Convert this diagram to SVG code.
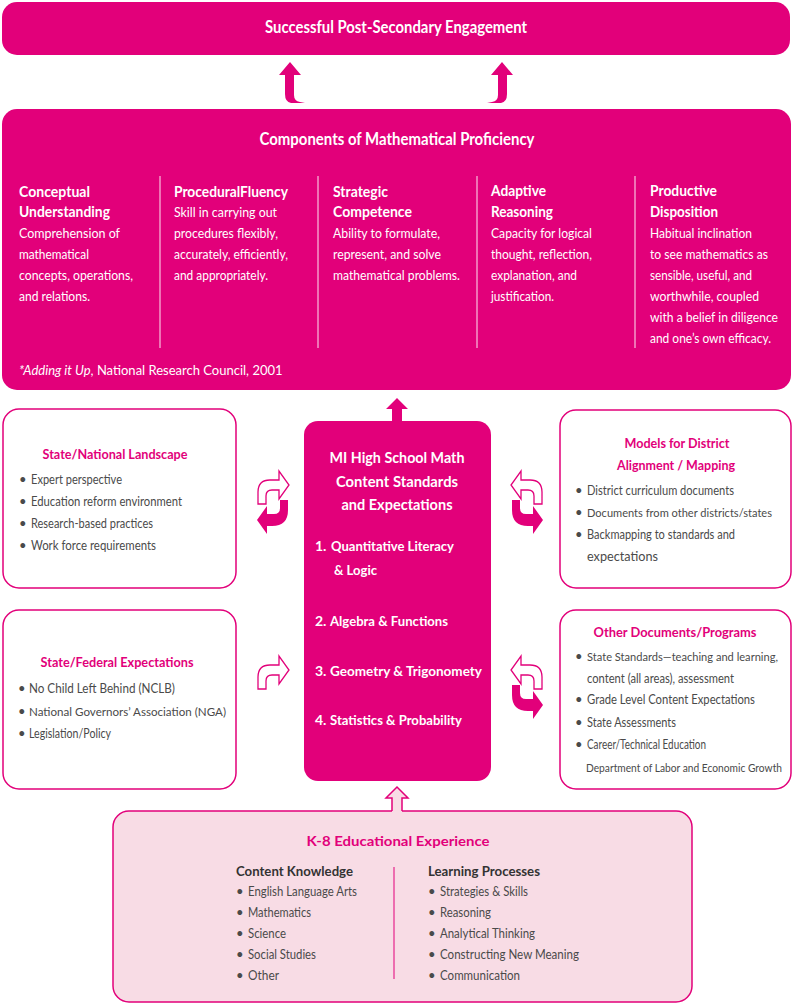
<svg xmlns="http://www.w3.org/2000/svg" xmlns:xlink="http://www.w3.org/1999/xlink" width="792" height="1007" viewBox="0 0 792 1007">
<style>
text{font-family:Lato,"Liberation Sans",sans-serif}
.magf{fill:#E2007A}
.box{fill:#fff;stroke:#E2007A;stroke-width:1.5}
.k8{fill:#F8DCE5;stroke:#E2007A;stroke-width:1.5}
.h1{font-size:16.5px;font-weight:bold;fill:#fff;text-anchor:middle}
.ch{font-size:14.5px;font-weight:bold;fill:#fff}
.cb{font-size:13px;fill:#fff}
.ct{font-size:15.5px;font-weight:bold;fill:#fff;text-anchor:middle}
.ci{font-size:14px;font-weight:bold;fill:#fff}
.bt{font-size:14px;font-weight:bold;fill:#E2007A;text-anchor:middle}
.it{font-size:13px;fill:#4A4A4A}
.sm{font-size:11.5px}
.xs{font-size:10.5px}
.kh{font-size:14px;font-weight:bold;fill:#333}
.div{stroke:#fff;stroke-opacity:0.75;stroke-width:1.2}
.outA{fill:#fff;stroke:#E2007A;stroke-width:1.3;stroke-linejoin:miter}
.fillA{fill:#E2007A}
</style>
<defs>
<path id="outArrow" class="outA" d="M2,34 L2,22 Q2,10 14,10 L23,10 L23,1 L33,15 L23,29 L23,20 L16,20 Q10,20 10,26 L10,34 Z"/>
<path id="fillArrow" class="fillA" d="M32,30 L32,40 Q32,56 16,56 L11,56 L11,64 L1,50 L11,36 L11,44 L18,44 Q24,44 24,38 L24,30 Z"/>
<g id="cycle"><use xlink:href="#outArrow" href="#outArrow"/><use xlink:href="#fillArrow" href="#fillArrow"/></g>
</defs>

<g id="post-secondary">
<rect x="2" y="2" width="788" height="53" rx="15" class="magf"/>
<text class="h1" x="396" y="33" textLength="262" lengthAdjust="spacingAndGlyphs">Successful Post-Secondary Engagement</text>
</g>

<g id="components">
<rect x="2" y="109" width="789" height="281" rx="15" class="magf"/>
<text class="h1" x="397" y="145" textLength="275" lengthAdjust="spacingAndGlyphs">Components of Mathematical Proficiency</text>
<line class="div" x1="160" y1="176" x2="160" y2="348"/>
<line class="div" x1="318" y1="176" x2="318" y2="348"/>
<line class="div" x1="477" y1="176" x2="477" y2="348"/>
<line class="div" x1="635" y1="176" x2="635" y2="348"/>
<text class="ch" x="19" y="197" textLength="71" lengthAdjust="spacingAndGlyphs">Conceptual</text>
<text class="ch" x="19" y="217" textLength="91" lengthAdjust="spacingAndGlyphs">Understanding</text>
<text class="cb" x="19" y="238" textLength="101" lengthAdjust="spacingAndGlyphs">Comprehension of</text>
<text class="cb" x="19" y="259" textLength="70" lengthAdjust="spacingAndGlyphs">mathematical</text>
<text class="cb" x="19" y="280" textLength="114" lengthAdjust="spacingAndGlyphs">concepts, operations,</text>
<text class="cb" x="19" y="301" textLength="71" lengthAdjust="spacingAndGlyphs">and relations.</text>
<text class="ch" x="174" y="197" textLength="114" lengthAdjust="spacingAndGlyphs">ProceduralFluency</text>
<text class="cb" x="174" y="217" textLength="103" lengthAdjust="spacingAndGlyphs">Skill in carrying out</text>
<text class="cb" x="174" y="238" textLength="104" lengthAdjust="spacingAndGlyphs">procedures flexibly,</text>
<text class="cb" x="174" y="259" textLength="114" lengthAdjust="spacingAndGlyphs">accurately, efficiently,</text>
<text class="cb" x="174" y="280" textLength="94" lengthAdjust="spacingAndGlyphs">and appropriately.</text>
<text class="ch" x="333" y="197" textLength="55" lengthAdjust="spacingAndGlyphs">Strategic</text>
<text class="ch" x="333" y="217" textLength="79" lengthAdjust="spacingAndGlyphs">Competence</text>
<text class="cb" x="333" y="238" textLength="107" lengthAdjust="spacingAndGlyphs">Ability to formulate,</text>
<text class="cb" x="333" y="259" textLength="108" lengthAdjust="spacingAndGlyphs">represent, and solve</text>
<text class="cb" x="333" y="280" textLength="127" lengthAdjust="spacingAndGlyphs">mathematical problems.</text>
<text class="ch" x="491" y="196" textLength="55" lengthAdjust="spacingAndGlyphs">Adaptive</text>
<text class="ch" x="491" y="217" textLength="62" lengthAdjust="spacingAndGlyphs">Reasoning</text>
<text class="cb" x="491" y="238" textLength="101" lengthAdjust="spacingAndGlyphs">Capacity for logical</text>
<text class="cb" x="491" y="259" textLength="101" lengthAdjust="spacingAndGlyphs">thought, reflection,</text>
<text class="cb" x="491" y="280" textLength="86" lengthAdjust="spacingAndGlyphs">explanation, and</text>
<text class="cb" x="491" y="301" textLength="63" lengthAdjust="spacingAndGlyphs">justification.</text>
<text class="ch" x="650" y="196" textLength="67" lengthAdjust="spacingAndGlyphs">Productive</text>
<text class="ch" x="650" y="217" textLength="68" lengthAdjust="spacingAndGlyphs">Disposition</text>
<text class="cb" x="650" y="238" textLength="102" lengthAdjust="spacingAndGlyphs">Habitual inclination</text>
<text class="cb" x="650" y="259" textLength="118" lengthAdjust="spacingAndGlyphs">to see mathematics as</text>
<text class="cb" x="650" y="280" textLength="102" lengthAdjust="spacingAndGlyphs">sensible, useful, and</text>
<text class="cb" x="650" y="301" textLength="109" lengthAdjust="spacingAndGlyphs">worthwhile, coupled</text>
<text class="cb" x="650" y="322" textLength="128" lengthAdjust="spacingAndGlyphs">with a belief in diligence</text>
<text class="cb" x="650" y="343" textLength="121" lengthAdjust="spacingAndGlyphs">and one’s own efficacy.</text>
<text class="cb" x="19" y="375" font-size="12"><tspan font-style="italic">*Adding it Up</tspan>, National Research Council, 2001</text>
</g>

<g id="hs-standards">
<rect x="304" y="421" width="187" height="360" rx="14" class="magf"/>
<text class="ct" x="397" y="463" textLength="135" lengthAdjust="spacingAndGlyphs">MI High School Math</text>
<text class="ct" x="397" y="487" textLength="122" lengthAdjust="spacingAndGlyphs">Content Standards</text>
<text class="ct" x="397" y="510" textLength="111" lengthAdjust="spacingAndGlyphs">and Expectations</text>
<text class="ci" x="315" y="551">1.</text>
<text class="ci" x="331" y="551" textLength="123" lengthAdjust="spacingAndGlyphs">Quantitative Literacy</text>
<text class="ci" x="334" y="575" textLength="43" lengthAdjust="spacingAndGlyphs">&amp; Logic</text>
<text class="ci" x="315" y="626">2.</text>
<text class="ci" x="330" y="626" textLength="118" lengthAdjust="spacingAndGlyphs">Algebra &amp; Functions</text>
<text class="ci" x="315" y="676">3.</text>
<text class="ci" x="330" y="676" textLength="152" lengthAdjust="spacingAndGlyphs">Geometry &amp; Trigonomety</text>
<text class="ci" x="315" y="725">4.</text>
<text class="ci" x="330" y="725" textLength="132" lengthAdjust="spacingAndGlyphs">Statistics &amp; Probability</text>
</g>

<g id="state-national">
<rect x="3" y="409" width="233" height="179" rx="16" class="box"/>
<text class="bt" x="115" y="459" textLength="145" lengthAdjust="spacingAndGlyphs">State/National Landscape</text>
<text class="it" x="19" y="484">•</text><text class="it" x="31" y="484" textLength="91" lengthAdjust="spacingAndGlyphs">Expert perspective</text>
<text class="it" x="19" y="506">•</text><text class="it" x="31" y="506" textLength="151" lengthAdjust="spacingAndGlyphs">Education reform environment</text>
<text class="it" x="19" y="528">•</text><text class="it" x="31" y="528" textLength="122" lengthAdjust="spacingAndGlyphs">Research-based practices</text>
<text class="it" x="19" y="550">•</text><text class="it" x="31" y="550" textLength="125" lengthAdjust="spacingAndGlyphs">Work force requirements</text>
</g>

<g id="state-federal">
<rect x="3" y="610" width="233" height="179" rx="16" class="box"/>
<text class="bt" x="117" y="667" textLength="153" lengthAdjust="spacingAndGlyphs">State/Federal Expectations</text>
<text class="it" x="18" y="693">•</text><text class="it" x="29" y="693" textLength="146" lengthAdjust="spacingAndGlyphs">No Child Left Behind (NCLB)</text>
<text class="it" x="18" y="716">•</text><text class="it sm" x="29" y="716" textLength="197" lengthAdjust="spacingAndGlyphs">National Governors’ Association (NGA)</text>
<text class="it" x="18" y="738">•</text><text class="it" x="29" y="738" textLength="82" lengthAdjust="spacingAndGlyphs">Legislation/Policy</text>
</g>

<g id="district-models">
<rect x="560" y="410" width="231" height="178" rx="16" class="box"/>
<text class="bt" x="677" y="448" textLength="105" lengthAdjust="spacingAndGlyphs">Models for District</text>
<text class="bt" x="676" y="470" textLength="118" lengthAdjust="spacingAndGlyphs">Alignment / Mapping</text>
<text class="it" x="575" y="495">•</text><text class="it" x="587" y="495" textLength="147" lengthAdjust="spacingAndGlyphs">District curriculum documents</text>
<text class="it" x="575" y="517">•</text><text class="it sm" x="587" y="517" textLength="185" lengthAdjust="spacingAndGlyphs">Documents from other districts/states</text>
<text class="it" x="575" y="539">•</text><text class="it" x="587" y="539" textLength="148" lengthAdjust="spacingAndGlyphs">Backmapping to standards and</text>
<text class="it" x="587" y="561" textLength="71" lengthAdjust="spacingAndGlyphs">expectations</text>
</g>

<g id="other-documents">
<rect x="560" y="610" width="231" height="179" rx="16" class="box"/>
<text class="bt" x="675" y="637" textLength="163" lengthAdjust="spacingAndGlyphs">Other Documents/Programs</text>
<text class="it" x="575" y="661">•</text><text class="it sm" x="587" y="661" textLength="191" lengthAdjust="spacingAndGlyphs">State Standards—teaching and learning,</text>
<text class="it" x="587" y="683" textLength="147" lengthAdjust="spacingAndGlyphs">content (all areas), assessment</text>
<text class="it" x="575" y="704">•</text><text class="it" x="587" y="704" textLength="168" lengthAdjust="spacingAndGlyphs">Grade Level Content Expectations</text>
<text class="it" x="575" y="727">•</text><text class="it" x="587" y="727" textLength="89" lengthAdjust="spacingAndGlyphs">State Assessments</text>
<text class="it" x="575" y="749">•</text><text class="it" x="587" y="749" textLength="119" lengthAdjust="spacingAndGlyphs">Career/Technical Education</text>
<text class="it xs" x="586" y="772" textLength="196" lengthAdjust="spacingAndGlyphs">Department of Labor and Economic Growth</text>
</g>

<g id="k8">
<rect x="113" y="811" width="579" height="191" rx="16" class="k8"/>
<text class="bt" x="398" y="846" font-size="16" textLength="183" lengthAdjust="spacingAndGlyphs">K-8 Educational Experience</text>
<line x1="394" y1="867" x2="394" y2="979" stroke="#E2007A" stroke-width="1"/>
<text class="kh" x="236" y="876" textLength="117" lengthAdjust="spacingAndGlyphs">Content Knowledge</text>
<text class="it" x="236" y="896">•</text><text class="it" x="248" y="896" textLength="109" lengthAdjust="spacingAndGlyphs">English Language Arts</text>
<text class="it" x="236" y="917">•</text><text class="it" x="248" y="917" textLength="63" lengthAdjust="spacingAndGlyphs">Mathematics</text>
<text class="it" x="236" y="938">•</text><text class="it" x="248" y="938" textLength="38" lengthAdjust="spacingAndGlyphs">Science</text>
<text class="it" x="236" y="959">•</text><text class="it" x="248" y="959" textLength="68" lengthAdjust="spacingAndGlyphs">Social Studies</text>
<text class="it" x="236" y="980">•</text><text class="it" x="248" y="980" textLength="31" lengthAdjust="spacingAndGlyphs">Other</text>
<text class="kh" x="428" y="876" textLength="112" lengthAdjust="spacingAndGlyphs">Learning Processes</text>
<text class="it" x="428" y="896">•</text><text class="it" x="440" y="896" textLength="88" lengthAdjust="spacingAndGlyphs">Strategies &amp; Skills</text>
<text class="it" x="428" y="917">•</text><text class="it" x="440" y="917" textLength="51" lengthAdjust="spacingAndGlyphs">Reasoning</text>
<text class="it" x="428" y="938">•</text><text class="it" x="440" y="938" textLength="95" lengthAdjust="spacingAndGlyphs">Analytical Thinking</text>
<text class="it" x="428" y="959">•</text><text class="it" x="440" y="959" textLength="139" lengthAdjust="spacingAndGlyphs">Constructing New Meaning</text>
<text class="it" x="428" y="980">•</text><text class="it" x="440" y="980" textLength="80" lengthAdjust="spacingAndGlyphs">Communication</text>
</g>

<g id="connectors">
<path class="fillA" d="M290,62 L301,75 L294,75 L294,95 Q294,101 300,102 L305,103 L291,103 Q285,102 285,94 L285,75 L279,75 Z"/>
<path class="fillA" transform="translate(792,0) scale(-1,1)" d="M290,62 L301,75 L294,75 L294,95 Q294,101 300,102 L305,103 L291,103 Q285,102 285,94 L285,75 L279,75 Z"/>
<path class="fillA" d="M397,398 L408,409 L402,409 L402,422 L392,422 L392,409 L386,409 Z"/>
<path fill="#F8DCE5" d="M397,787 L408,798 L402,798 L402,812.5 L392,812.5 L392,798 L386,798 Z"/>
<path fill="none" stroke="#E2007A" stroke-width="1.5" d="M392,811 L392,798 L386,798 L397,787 L408,798 L402,798 L402,811"/>
<use xlink:href="#cycle" href="#cycle" transform="translate(256,470)"/>
<use xlink:href="#cycle" href="#cycle" transform="translate(544,470) scale(-1,1)"/>
<use xlink:href="#outArrow" href="#outArrow" transform="translate(256,655)"/>
<use xlink:href="#cycle" href="#cycle" transform="translate(544,655) scale(-1,1)"/>
</g>
</svg>
